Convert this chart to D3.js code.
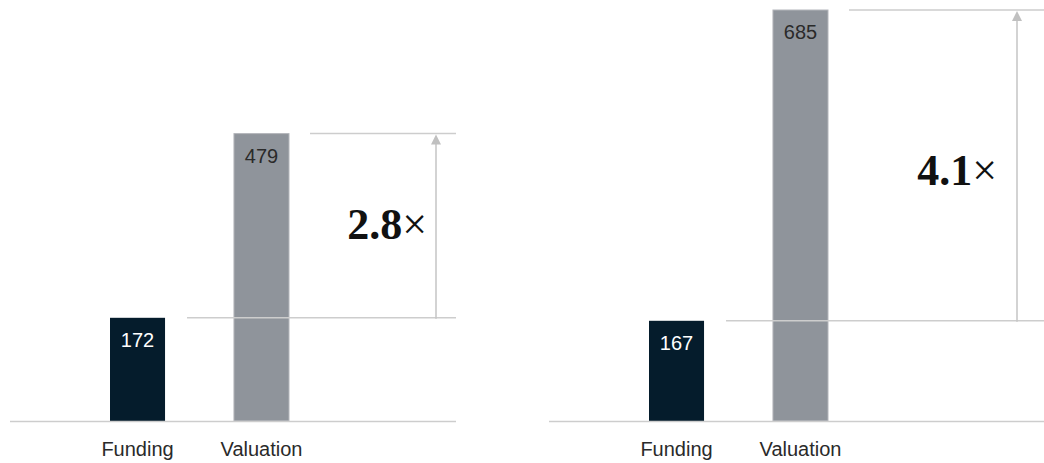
<!DOCTYPE html>
<html>
<head>
<meta charset="utf-8">
<script src="https://cdn.jsdelivr.net/npm/d3@7"></script>
<style>
  html, body { margin: 0; padding: 0; background: #fff; }
  svg { display: block; }
</style>
</head>
<body>
<svg id="chart" width="1044" height="463"></svg>
<script>
// Funding raised vs. resulting valuation, two cohorts
const categories = ["Funding", "Valuation"];
const leftValues = [172, 479];
const rightValues = [167, 685];

const svg = d3.select("#chart");

const navy = "#051c2c";
const gray = "#8f949b";
const rule = "#cdcdcd";
const sans = "'Liberation Sans', Arial, Helvetica, sans-serif";
const serif = "'Liberation Serif', 'Times New Roman', serif";

// Shared vertical scale so both panels compare directly
const yMax = d3.max([...leftValues, ...rightValues]);
const y = d3.scaleLinear().domain([0, yMax]).range([421, 10]);

const panels = [
  { values: leftValues, base: [10, 456], bars: [110, 289], lineEnd: 456, arrowX: 436, labelX: 427, labelDy: 13 },
  { values: rightValues, base: [549, 1044], bars: [649, 828], lineEnd: 1044, arrowX: 1017, labelX: 997, labelDy: 20 }
];

const fmt = d3.format(".1f");

panels.forEach(p => {
  const g = svg.append("g");
  const x = d3.scaleBand().domain(categories).range(p.bars).paddingInner(0.556).paddingOuter(0);
  const data = categories.map((c, i) => ({ cat: c, value: p.values[i] }));

  // bars
  g.selectAll("rect.bar").data(data).join("rect")
    .attr("class", "bar")
    .attr("x", d => x(d.cat))
    .attr("y", d => y(d.value))
    .attr("width", x.bandwidth())
    .attr("height", d => y(0) - y(d.value))
    .attr("fill", (d, i) => i === 0 ? navy : gray)
    .attr("stroke", (d, i) => i === 0 ? "none" : "#b3b6bb")
    .attr("stroke-width", 1);

  // value labels inside the top of each bar
  g.selectAll("text.val").data(data).join("text")
    .attr("class", "val")
    .attr("x", d => x(d.cat) + x.bandwidth() / 2)
    .attr("y", d => y(d.value) + 29)
    .attr("text-anchor", "middle")
    .attr("font-family", sans)
    .attr("font-size", 20)
    .attr("fill", (d, i) => i === 0 ? "#ffffff" : "#2a2a2a")
    .text(d => d.value);

  // baseline
  g.append("line")
    .attr("x1", p.base[0]).attr("x2", p.base[1])
    .attr("y1", y(0) + 0.5).attr("y2", y(0) + 0.5)
    .attr("stroke", rule).attr("stroke-width", 1.5);

  // category axis
  const axis = d3.axisBottom(x).tickSize(0).tickPadding(0);
  const ax = g.append("g").attr("transform", `translate(0,${y(0) + 35})`).call(axis);
  ax.select(".domain").remove();
  ax.selectAll("text")
    .attr("font-family", sans)
    .attr("font-size", 20)
    .attr("fill", "#2a2a2a")
    .attr("dy", "0");

  // reference lines at the funding and valuation levels
  const fundY = y(p.values[0]);
  const valY = y(p.values[1]);
  g.append("line")
    .attr("x1", x(categories[0]) + x.bandwidth() + 22).attr("x2", p.lineEnd)
    .attr("y1", fundY).attr("y2", fundY)
    .attr("stroke", rule).attr("stroke-width", 1.5);
  g.append("line")
    .attr("x1", x(categories[1]) + x.bandwidth() + 21).attr("x2", p.lineEnd)
    .attr("y1", valY).attr("y2", valY)
    .attr("stroke", rule).attr("stroke-width", 1.5);

  // arrow spanning the gap
  g.append("line")
    .attr("x1", p.arrowX).attr("x2", p.arrowX)
    .attr("y1", fundY + 1).attr("y2", valY + 8)
    .attr("stroke", "#c4c4c4").attr("stroke-width", 1.5);
  g.append("path")
    .attr("d", `M${p.arrowX},${valY + 1} L${p.arrowX - 5},${valY + 11} L${p.arrowX + 5},${valY + 11} Z`)
    .attr("fill", "#c0c0c0");

  // multiple label
  const mult = p.values[1] / p.values[0];
  const t = g.append("text")
    .attr("x", p.labelX)
    .attr("y", (fundY + valY) / 2 + p.labelDy)
    .attr("text-anchor", "end")
    .attr("font-family", serif)
    .attr("font-size", 44)
    .attr("fill", "#111");
  t.append("tspan").attr("font-weight", "bold").text(fmt(mult));
  t.append("tspan").attr("font-weight", "normal").text("×");
});
</script>
</body>
</html>
